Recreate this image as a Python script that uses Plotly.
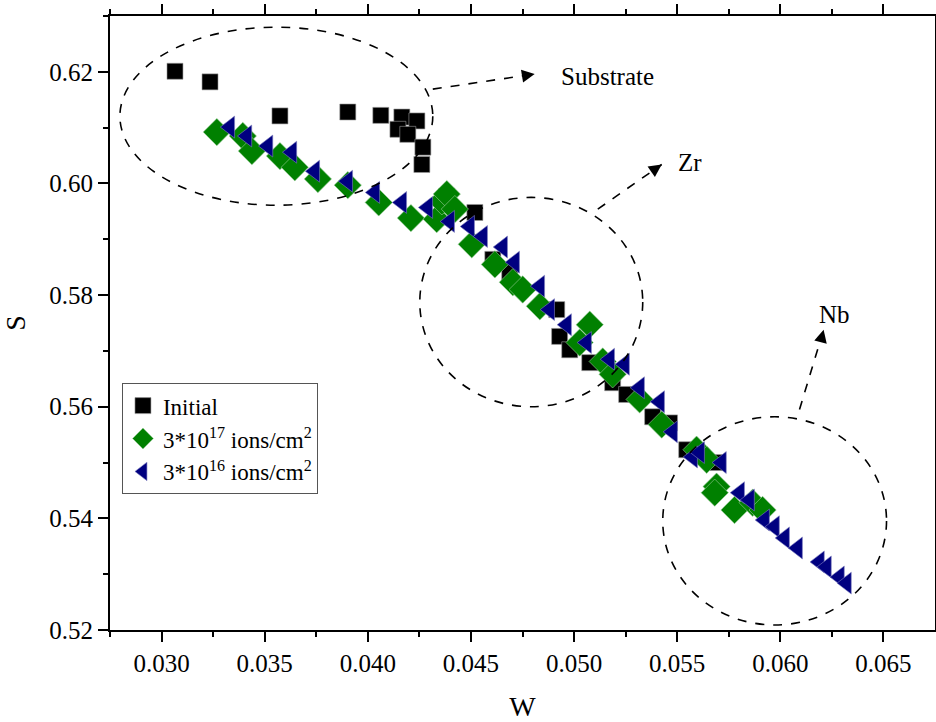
import plotly.graph_objects as go

# ---- data ----
init_w = [0.03065, 0.03235, 0.03574, 0.03903, 0.04063, 0.04165, 0.04238, 0.04146, 0.04194, 0.04267,
          0.04262, 0.04383, 0.04519, 0.04606, 0.04688, 0.04916, 0.04930, 0.04979, 0.05076, 0.05187,
          0.05255, 0.05381, 0.05463, 0.05546, 0.05696]
init_s = [0.6201, 0.6182, 0.6121, 0.6128, 0.6122, 0.6119, 0.6112, 0.6097, 0.6088, 0.6065,
          0.6034, 0.5977, 0.5948, 0.5864, 0.5841, 0.5774, 0.5726, 0.5702, 0.5679, 0.5643,
          0.5622, 0.5582, 0.5571, 0.5523, 0.5500]

d17_w = [0.03268, 0.03394, 0.03438, 0.03574, 0.03646, 0.03758, 0.03903, 0.04053, 0.04209, 0.04334,
         0.04359, 0.04383, 0.04422, 0.04504, 0.04616, 0.04703, 0.04751, 0.04834, 0.05076, 0.05027,
         0.05139, 0.05187, 0.05318, 0.05425, 0.05594, 0.05643, 0.05691, 0.05682, 0.05778, 0.05866,
         0.05914]
d17_s = [0.6092, 0.6085, 0.6058, 0.6049, 0.6029, 0.6008, 0.5997, 0.5966, 0.5938, 0.5936,
         0.5968, 0.5981, 0.5954, 0.5891, 0.5855, 0.5823, 0.5810, 0.5780, 0.5747, 0.5715,
         0.5681, 0.5658, 0.5613, 0.5568, 0.5523, 0.5505, 0.5457, 0.5446, 0.5415, 0.5428,
         0.5415]

d16_w = [0.03331, 0.03414, 0.03516, 0.03632, 0.03743, 0.03903, 0.04034, 0.04165, 0.04291, 0.04397,
         0.04494, 0.04557, 0.04654, 0.04712, 0.04834, 0.04882, 0.04964, 0.05061, 0.05173, 0.05245,
         0.05318, 0.05415, 0.05478, 0.05575, 0.05609, 0.05715, 0.05803, 0.05851, 0.05924, 0.05972,
         0.06021, 0.06084, 0.06190, 0.06224, 0.06287, 0.06321]
d16_s = [0.6101, 0.6085, 0.6067, 0.6056, 0.6022, 0.6004, 0.5984, 0.5966, 0.5957, 0.5932,
         0.5923, 0.5905, 0.5886, 0.5859, 0.5816, 0.5774, 0.5747, 0.5715, 0.5685, 0.5676,
         0.5634, 0.5609, 0.5555, 0.5510, 0.5518, 0.5500, 0.5446, 0.5433, 0.5397, 0.5385,
         0.5365, 0.5347, 0.5322, 0.5313, 0.5295, 0.5284]

names = ["Initial", "3*10<sup>17</sup> ions/cm<sup>2</sup>", "3*10<sup>16</sup> ions/cm<sup>2</sup>"]

FONT = "Liberation Serif"

fig = go.Figure()
fig.add_trace(go.Scatter(x=init_w, y=init_s, mode="markers", name=names[0],
                         marker=dict(symbol="square", size=16, color="#000000",
                                     line=dict(width=0.6, color="#9a9a9a"))))
fig.add_trace(go.Scatter(x=d17_w, y=d17_s, mode="markers", name=names[1],
                         marker=dict(symbol="diamond", size=21, color="#008000",
                                     line=dict(width=0.6, color="#9acd9a"))))
fig.add_trace(go.Scatter(x=d16_w, y=d16_s, mode="markers", name=names[2],
                         marker=dict(symbol="triangle-left", size=19, color="#000080",
                                     line=dict(width=0.6, color="#8080c0"))))

# dashed ellipses marking regions
ell = dict(type="circle", xref="x", yref="y", line=dict(color="black", width=1.6, dash="dash"))
fig.add_shape(x0=0.02798, x1=0.04315, y0=0.5961, y1=0.6280, **ell)
fig.add_shape(x0=0.04252, x1=0.05333, y0=0.5600, y1=0.5975, **ell)
fig.add_shape(x0=0.05430, x1=0.06515, y0=0.5209, y1=0.5582, **ell)

# dashed arrows with labels
arrows = [
    (0.04315, 0.6169, 0.04809, 0.6196, -12, 2, "Substrate", 0.05163, 0.6191),
    (0.05115, 0.5954, 0.05425, 0.6034, -10, 7, "Zr", 0.05560, 0.6038),
    (0.06093, 0.5595, 0.06210, 0.5738, -3, 12, "Nb", 0.06263, 0.5765),
]
for x0, y0, x1, y1, ax, ay, txt, tx, ty in arrows:
    fig.add_shape(type="line", xref="x", yref="y", x0=x0, y0=y0, x1=x1, y1=y1,
                  line=dict(color="black", width=1.6, dash="dash"))
    fig.add_annotation(x=x1, y=y1, xref="x", yref="y", ax=ax, ay=ay, text="",
                       showarrow=True, arrowhead=2, arrowsize=1.6, arrowwidth=1.6,
                       arrowcolor="black")
    fig.add_annotation(x=tx, y=ty, xref="x", yref="y", text=txt, showarrow=False,
                       font=dict(family=FONT, size=25, color="black"))

fig.update_layout(
    width=936, height=722,
    margin=dict(l=110, r=1, t=16, b=92),
    paper_bgcolor="white", plot_bgcolor="white",
    font=dict(family=FONT, size=24, color="black"),
    showlegend=True,
    legend=dict(x=0.0145, y=0.402, xanchor="left", yanchor="top",
                bgcolor="white", bordercolor="#555555", borderwidth=1,
                font=dict(family=FONT, size=23, color="black"),
                tracegroupgap=4),
)
fig.update_xaxes(range=[0.0275, 0.0675], tickvals=[0.030, 0.035, 0.040, 0.045, 0.050, 0.055, 0.060, 0.065],
                 ticktext=["0.030", "0.035", "0.040", "0.045", "0.050", "0.055", "0.060", "0.065"],
                 ticks="outside", ticklen=10, tickwidth=2, tickcolor="black",
                 minor=dict(tickvals=[0.0275, 0.0325, 0.0375, 0.0425, 0.0475, 0.0525, 0.0575, 0.0625],
                            ticks="outside", ticklen=5, tickwidth=2, tickcolor="black"),
                 showline=True, linewidth=2, linecolor="black", mirror="ticks",
                 showgrid=False, zeroline=False, automargin=False,
                 title=dict(text="W", font=dict(family=FONT, size=28), standoff=26),
                 tickfont=dict(family=FONT, size=25))
fig.update_yaxes(range=[0.52, 0.63], tickvals=[0.52, 0.54, 0.56, 0.58, 0.60, 0.62],
                 ticktext=["0.52", "0.54", "0.56", "0.58", "0.60", "0.62"],
                 ticks="outside", ticklen=10, tickwidth=2, tickcolor="black",
                 minor=dict(tickvals=[0.53, 0.55, 0.57, 0.59, 0.61, 0.63],
                            ticks="outside", ticklen=5, tickwidth=2, tickcolor="black"),
                 showline=True, linewidth=2, linecolor="black", mirror="ticks",
                 showgrid=False, zeroline=False, automargin=False,
                 title=dict(text="S", font=dict(family=FONT, size=28), standoff=22),
                 tickfont=dict(family=FONT, size=25))

fig.write_html("out.html", config={"displayModeBar": False},
               post_script="document.body.style.margin='0px';document.body.style.overflow='hidden';")
